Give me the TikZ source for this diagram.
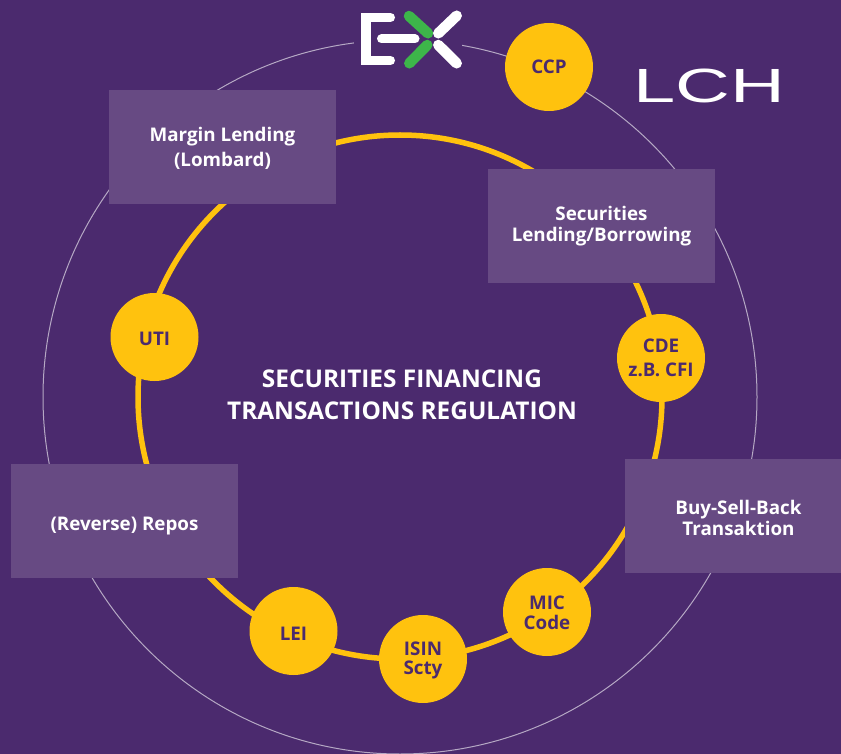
\documentclass[tikz,border=0pt]{standalone}
\usepackage{fontspec}
\setmainfont{Open Sans}
\newfontfamily\logofont{Liberation Sans}
\definecolor{bgpurple}{HTML}{4B2A6E}
\definecolor{boxpurple}{HTML}{674A83}
\definecolor{ringyellow}{HTML}{FFC20E}
\definecolor{logogreen}{HTML}{3DB54A}
\definecolor{outerline}{HTML}{B5A8C4}
\newcommand\nudged[2]{\raisebox{#1}[\height][\depth]{\begin{tabular}{@{}c@{}}#2\end{tabular}}}
\tikzset{
  infobox/.style={fill=boxpurple,minimum width=227pt,minimum height=114pt,inner sep=0pt,text=white,font=\fontsize{18.8}{21}\selectfont\bfseries},
  badge/.style={circle,fill=ringyellow,minimum size=88pt,inner sep=0pt,text=bgpurple,font=\fontsize{18.8}{20}\selectfont\bfseries},
  logostroke/.style={line width=9pt,line cap=round},
  logodiag/.style={line width=10.5pt,line cap=round},
}
\begin{document}
\begin{tikzpicture}[x=1pt,y=-1pt]
\path[use as bounding box,fill=bgpurple] (0,0) rectangle (841,754);
\begin{scope}
\clip (0,0) rectangle (841,754);
\coordinate (centre) at (400,397);
\draw[outerline,line width=1pt] (centre) circle[radius=357pt];
\draw[ringyellow,line width=5.5pt] (centre) circle[radius=262pt];
% logo gap
\fill[bgpurple] (354,8) rectangle (462,70);
\node[infobox] (margin) at (222.5,147) {\nudged{-3pt}{Margin Lending\\[4pt](Lombard)}};
\node[infobox] (seclend) at (601.5,226) {\nudged{-1pt}{Securities\\Lending/Borrowing}};
\node[infobox] (buysell) at (738.5,516) {\nudged{-5pt}{Buy-Sell-Back\\Transaktion}};
\node[infobox] (repos) at (124.5,521) {\nudged{-5.5pt}{(Reverse) Repos}};
\node[badge] (ccp) at (549,67) {CCP};
\node[badge] (uti) at (154.5,337) {\nudged{-5pt}{UTI}};
\node[badge] (cde) at (661,358) {\nudged{-2pt}{CDE\\[4pt]z.B. CFI}};
\node[badge] (mic) at (547,612) {\nudged{-3.5pt}{MIC\\[-1pt]Code}};
\node[badge] (isin) at (423,659) {\nudged{-1.5pt}{ISIN\\[-1pt]Scty}};
\node[badge] (lei) at (293.5,631) {\nudged{-5pt}{LEI}};
\node[text=white,align=center,font=\fontsize{24.4}{32}\selectfont\bfseries] (title) at (402,395) {SECURITIES FINANCING\\TRANSACTIONS REGULATION};
% EX logo
\fill[white] (361,13) rectangle (371,65);
\draw[white,logostroke] (366,17.5) -- (390.5,17.5);
\draw[white,logostroke] (366,60.5) -- (390.5,60.5);
\draw[white,logostroke] (381.5,39) -- (415,39);
\draw[logogreen,logodiag] (409,16) -- (428,33.3);
\draw[logogreen,logodiag] (427.3,45) -- (409.3,63.3);
\draw[white,logodiag] (456.7,15.7) -- (438.3,33.3);
\draw[white,logodiag] (438.3,45) -- (456.7,63.3);
\node[text=white,inner sep=0pt,font=\logofont\fontsize{48}{48}\selectfont,xscale=1.58] (lch) at (709,86) {LCH};
\end{scope}
\end{tikzpicture}
\end{document}
